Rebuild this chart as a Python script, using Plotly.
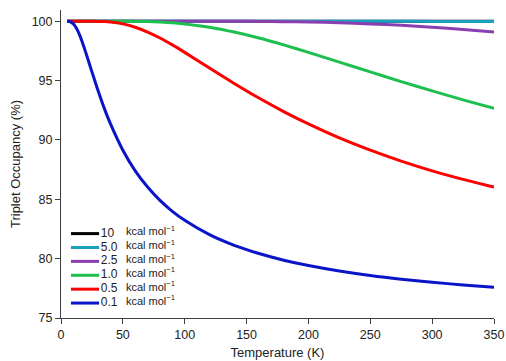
import plotly.graph_objects as go

# Temperature grid (K)
temperature = [5, 7.5, 10, 12.5, 15, 17.5, 20, 25, 30, 35, 40, 50, 60, 70, 80, 90,
               100, 120, 140, 160, 180, 200, 225, 250, 275, 300, 325, 350]

# Triplet occupancy (%), one list per singlet-triplet gap
occ_10 = [100.00] * 28
occ_5_0 = [100.00, 100.00, 100.00, 100.00, 100.00, 100.00, 100.00, 100.00, 100.00, 100.00,
           100.00, 100.00, 100.00, 100.00, 100.00, 100.00, 100.00, 100.00, 100.00, 100.00,
           100.00, 100.00, 100.00, 100.00, 100.00, 99.99, 99.99, 99.98]
occ_2_5 = [100.00, 100.00, 100.00, 100.00, 100.00, 100.00, 100.00, 100.00, 100.00, 100.00,
           100.00, 100.00, 100.00, 100.00, 100.00, 100.00, 100.00, 100.00, 100.00, 99.99,
           99.97, 99.94, 99.88, 99.78, 99.66, 99.50, 99.31, 99.09]
occ_1_0 = [100.00, 100.00, 100.00, 100.00, 100.00, 100.00, 100.00, 100.00, 100.00, 100.00,
           100.00, 100.00, 99.99, 99.98, 99.94, 99.88, 99.78, 99.50, 99.09, 98.59,
           98.01, 97.38, 96.56, 95.74, 94.92, 94.14, 93.38, 92.66]
occ_0_5 = [100.00, 100.00, 100.00, 100.00, 100.00, 100.00, 100.00, 100.00, 99.99, 99.975,
           99.94, 99.78, 99.50, 99.09, 98.59, 98.01, 97.38, 96.06, 94.76, 93.53,
           92.39, 91.35, 90.17, 89.14, 88.22, 87.40, 86.68, 86.03]
occ_0_1 = [100.00, 99.96, 99.78, 99.41, 98.85, 98.15, 97.38, 95.74, 94.14, 92.66,
           91.35, 89.14, 87.40, 86.03, 84.91, 83.99, 83.23, 82.02, 81.12, 80.43,
           79.87, 79.42, 78.96, 78.58, 78.27, 78.01, 77.79, 77.60]

gap_labels = ["10", "5.0", "2.5", "1.0", "0.5", "0.1"]
series = [occ_10, occ_5_0, occ_2_5, occ_1_0, occ_0_5, occ_0_1]
colors = ["#000000", "#17a2c0", "#8a3fb0", "#1dbf4f", "#ff0000", "#0a14c8"]
unit_label = "kcal mol<sup>\u22121</sup>"

FONT = "Liberation Sans, Arial, sans-serif"

fig = go.Figure()
for lab, ys, col in zip(gap_labels, series, colors):
    fig.add_trace(go.Scatter(
        x=temperature, y=ys, mode="lines", name=f"{lab} kcal mol\u207b\u00b9",
        line=dict(color=col, width=3, shape="spline", smoothing=0.8),
        showlegend=False, hoverinfo="skip",
    ))

# Compact legend drawn on an invisible overlay axis spanning the plot area (0..1)
leg_x0, leg_x1 = 0.023, 0.088
num_x, unit_x = 0.092, 0.150
row_top, row_step = 0.274, 0.0451
rows_y = [row_top - i * row_step for i in range(len(gap_labels))]

for yy, col in zip(rows_y, colors):
    fig.add_trace(go.Scatter(
        x=[leg_x0, leg_x1], y=[yy, yy], xaxis="x2", yaxis="y2", mode="lines",
        line=dict(color=col, width=3), showlegend=False, hoverinfo="skip",
    ))
fig.add_trace(go.Scatter(
    x=[num_x] * len(gap_labels), y=rows_y, xaxis="x2", yaxis="y2", mode="text",
    text=gap_labels, textposition="middle right",
    textfont=dict(family=FONT, size=12, color="#222222"),
    showlegend=False, hoverinfo="skip", cliponaxis=False,
))
fig.add_trace(go.Scatter(
    x=[unit_x] * len(gap_labels), y=[v + 0.003 for v in rows_y], xaxis="x2", yaxis="y2",
    mode="text", text=[unit_label] * len(gap_labels), textposition="middle right",
    textfont=dict(family=FONT, size=11, color="#222222"),
    showlegend=False, hoverinfo="skip", cliponaxis=False,
))

fig.update_layout(
    width=506, height=361,
    margin=dict(l=61, r=12, t=10, b=43, autoexpand=False),
    paper_bgcolor="white", plot_bgcolor="white",
    font=dict(family=FONT, size=12, color="#222222"),
    showlegend=False,
    xaxis=dict(
        range=[0, 350], tickvals=[0, 50, 100, 150, 200, 250, 300, 350],
        showgrid=False, zeroline=False, showline=True, linecolor="#404040", linewidth=1,
        ticks="outside", ticklen=5, tickcolor="#404040", automargin=False,
        title=dict(text="Temperature (K)", standoff=6, font=dict(size=13)),
        tickfont=dict(size=12.5),
    ),
    yaxis=dict(
        range=[75, 100.95], tickvals=[75, 80, 85, 90, 95, 100],
        showgrid=False, zeroline=False, showline=True, linecolor="#404040", linewidth=1,
        ticks="outside", ticklen=5, tickcolor="#404040", automargin=False,
        title=dict(text="Triplet Occupancy (%)", standoff=8, font=dict(size=13)),
        tickfont=dict(size=12.5),
    ),
    xaxis2=dict(overlaying="x", range=[0, 1], visible=False, fixedrange=True),
    yaxis2=dict(overlaying="y", range=[0, 1], visible=False, fixedrange=True),
)

fig.write_html(
    "out.html",
    config={"displayModeBar": False},
    post_script="document.body.style.margin='0';document.body.style.overflow='hidden';",
)
